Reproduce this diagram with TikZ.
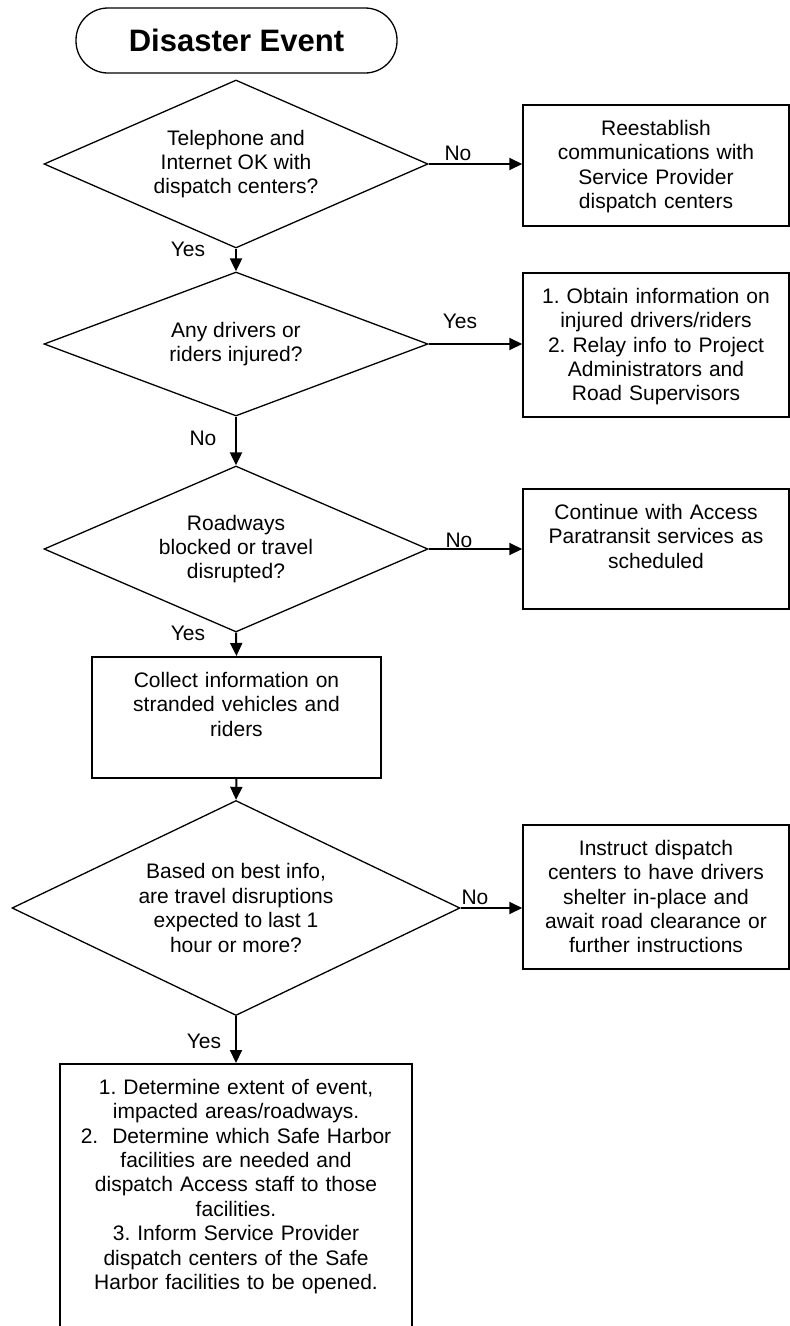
\documentclass[tikz,border=0pt]{standalone}
\usepackage{fontspec}
\setmainfont{Liberation Sans}
\usetikzlibrary{arrows.meta, shapes.geometric}
\frenchspacing

\begin{document}
\begin{tikzpicture}[x=1pt, y=-1pt,
  every node/.style={font=\fontsize{21}{24.4}\selectfont},
  start/.style={draw, line width=1.3pt, rounded corners=32pt,
    minimum width=321pt, minimum height=65pt,
    font=\fontsize{31}{36}\selectfont\bfseries},
  decision/.style={diamond, draw, line width=1.3pt, aspect=2,
    inner sep=0pt, align=center},
  process/.style={draw, line width=1.5pt, anchor=north, align=center,
    inner xsep=6pt, inner ysep=12.5pt, text height=18pt, text depth=#1},
  lbl/.style={inner sep=0pt},
  flow/.style={line width=2pt, -{Triangle[length=13pt, width=12pt]}}
]

\useasboundingbox (0,0) rectangle (790,1326);

% main column
\node[start] (event) at (236.5,40.5) {Disaster Event};

\node[decision, minimum width=384pt, minimum height=168pt] (phone) at (236,164)
  {Telephone and \\ Internet OK with \\ dispatch centers?};
\node[decision, minimum width=384pt, minimum height=144pt] (injured) at (236,344)
  {Any drivers or \\ riders injured?};
\node[decision, minimum width=384pt, minimum height=166pt] (roads) at (236,549)
  {Roadways \\ blocked or travel \\ disrupted?};
\node[process=78pt, text width=277pt] (collect) at (236.5,656)
  {Collect information on \\ stranded vehicles and \\ riders};
\node[decision, minimum width=448pt, minimum height=215pt] (lasting) at (236,908)
  {Based on best info, \\ are travel disruptions \\ expected to last 1 \\ hour or more?};
\node[process=224pt, text width=340pt] (harbor) at (236,1063)
  {1. Determine extent of event, \\ impacted areas/roadways. \\
   2.~ Determine which Safe Harbor \\ facilities are needed and \\
   dispatch Access staff to those \\ facilities. \\
   3. Inform Service Provider \\ dispatch centers of the Safe \\
   Harbor facilities to be opened.};

% side boxes
\node[process=78pt, text width=254pt] (reconnect) at (656,104)
  {Reestablish \\ communications with \\ Service Provider \\ dispatch centers};
\node[process=101pt, text width=254pt] (relay) at (656,272)
  {1. Obtain information on \\ injured drivers/riders \\ 2. Relay info to Project \\
   Administrators and \\ Road Supervisors};
\node[process=77pt, text width=254pt] (continue) at (656,488)
  {Continue with Access \\ Paratransit services as \\ scheduled};
\node[process=101pt, text width=254pt] (shelter) at (656,824)
  {Instruct dispatch \\ centers to have drivers \\ shelter in-place and \\
   await road clearance or \\ further instructions};

% connectors
\draw[flow] (phone.south) -- (injured.north);
\draw[flow] (injured.south) -- (roads.north);
\draw[flow] (roads.south) -- (collect.north);
\draw[flow] (collect.south) -- (lasting.north);
\draw[flow] (lasting.south) -- (harbor.north);

\draw[flow] (phone.east) -- (phone.east -| reconnect.west);
\draw[flow] (injured.east) -- (injured.east -| relay.west);
\draw[flow] (roads.east) -- (roads.east -| continue.west);
\draw[flow] (lasting.east) -- (lasting.east -| shelter.west);

% labels
\node[lbl] (no1) at (458,153) {No};
\node[lbl] (yes1) at (188,249) {Yes};
\node[lbl] (yes2) at (460,321) {Yes};
\node[lbl] (no2) at (203,438) {No};
\node[lbl] (no3) at (459,540) {No};
\node[lbl] (yes3) at (188,633) {Yes};
\node[lbl] (no4) at (475,897) {No};
\node[lbl] (yes4) at (204,1041) {Yes};

\end{tikzpicture}
\end{document}
